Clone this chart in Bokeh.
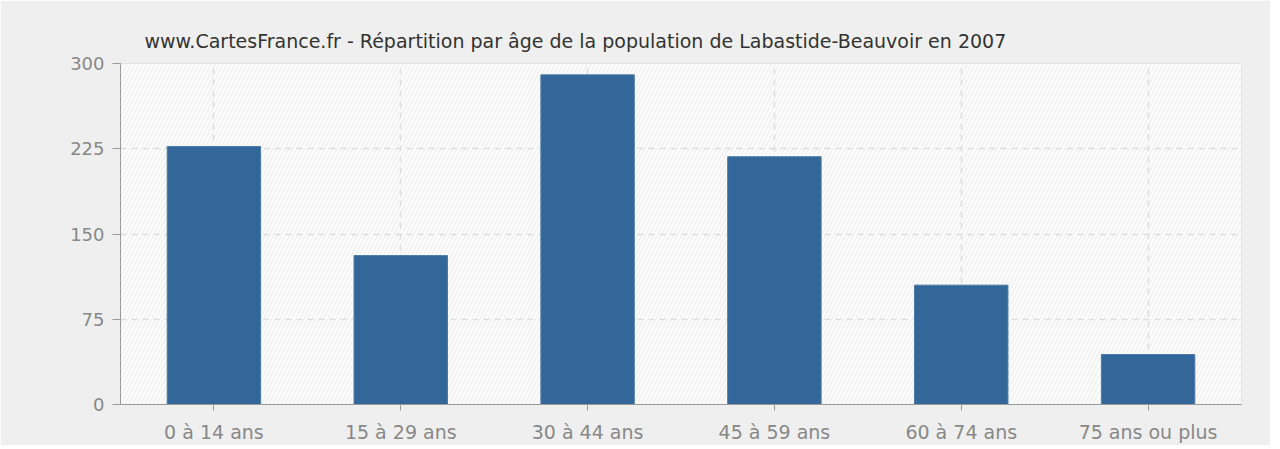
from bokeh.plotting import figure
from bokeh.embed import file_html
from bokeh.resources import INLINE
from bokeh.models import ColumnDataSource, FixedTicker, Range1d

categories = ["0 à 14 ans", "15 à 29 ans", "30 à 44 ans", "45 à 59 ans", "60 à 74 ans", "75 ans ou plus"]
values = [227, 131, 290, 218, 105, 44]
y_ticks = [0, 75, 150, 225, 300]
title = "www.CartesFrance.fr - Répartition par âge de la population de Labastide-Beauvoir en 2007"

FONT = "DejaVu Sans"

p = figure(x_range=categories, y_range=Range1d(0, 300), width=1270, height=445,
           output_backend="svg", toolbar_location=None,
           min_border_left=120, min_border_right=29, min_border_top=63, min_border_bottom=41)

p.title.text = title
p.title.text_font = FONT
p.title.text_font_size = "19px"
p.title.text_font_style = "normal"
p.title.text_color = "#333333"
p.title.align = "left"
p.title.offset = 24
p.title.standoff = 23

p.background_fill_color = "#fbfbfb"
p.border_fill_color = "#efefef"
p.outline_line_color = "#dddddd"

# hatched background, drawn beneath the grid
p.quad(left=[0], right=[len(categories)], bottom=[0], top=[300],
       fill_color="#fcfcfc", line_color=None,
       hatch_pattern="/", hatch_color="#ebebeb", hatch_scale=8, hatch_weight=1,
       level="image")

src = ColumnDataSource(dict(cat=categories, val=values))
p.vbar(x="cat", top="val", width=0.5, source=src, fill_color="#336699", line_color="#4a7aa8", line_width=1)

p.yaxis.ticker = FixedTicker(ticks=y_ticks)
for g in (p.xgrid, p.ygrid):
    g.grid_line_color = "#dedede"
    g.grid_line_dash = "6 5"
    g.grid_line_width = 1.5

for ax in (p.xaxis, p.yaxis):
    ax.axis_line_color = "#999999"
    ax.major_tick_line_color = "#999999"
    ax.minor_tick_line_color = None
    ax.major_label_text_font = FONT
    ax.major_label_text_color = "#888888"
    ax.major_tick_in = 0

p.xaxis.major_label_text_font_size = "19px"
p.yaxis.major_label_text_font_size = "18px"
p.yaxis.major_tick_out = 8
p.xaxis.major_tick_out = 6
p.yaxis.major_label_standoff = 8
p.xaxis.major_label_standoff = 10
p.x_range.range_padding = 0

open("out.html", "w").write(file_html(p, INLINE))
